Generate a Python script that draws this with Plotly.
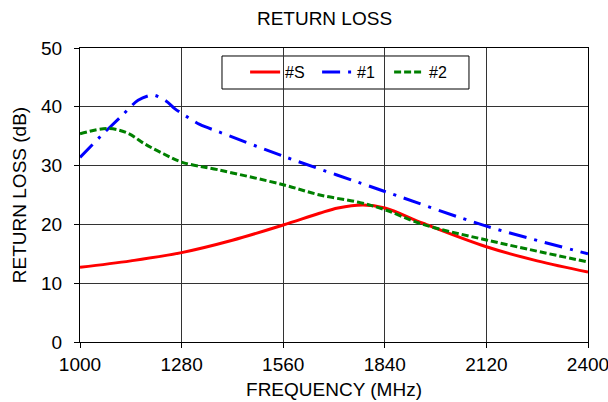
import plotly.graph_objects as go

freq_s = [1000, 1140, 1280, 1420, 1560, 1660, 1711, 1780, 1840, 1945, 2120, 2260, 2400]
rl_s = [12.7, 13.8, 15.2, 17.3, 19.9, 21.9, 22.8, 23.3, 22.8, 20.2, 16.2, 13.8, 11.9]

freq_1 = [1000, 1057, 1114, 1160, 1201, 1237, 1261, 1280, 1330, 1380, 1560, 1840, 2120, 2400]
rl_1 = [31.4, 35.0, 38.4, 41.1, 42.0, 41.0, 39.7, 38.9, 37.0, 35.8, 31.6, 25.6, 19.7, 15.0]

freq_2 = [1000, 1077, 1132, 1178, 1224, 1280, 1380, 1560, 1661, 1772, 1840, 1945, 2120, 2400]
rl_2 = [35.4, 36.3, 35.5, 33.7, 32.2, 30.6, 29.3, 26.75, 25.0, 23.7, 22.5, 20.0, 17.35, 13.6]

x_ticks = [1000, 1280, 1560, 1840, 2120, 2400]
y_ticks = [0, 10, 20, 30, 40, 50]

FONT = "Liberation Sans, Arial, sans-serif"

fig = go.Figure()
fig.add_trace(go.Scatter(x=freq_s, y=rl_s, name="#S", mode="lines",
                         line=dict(color="#ff0000", width=3, shape="spline", smoothing=1.0)))
fig.add_trace(go.Scatter(x=freq_1, y=rl_1, name="#1", mode="lines",
                         line=dict(color="#0000ff", width=3, shape="spline", smoothing=0.8,
                                   dash="18px,8px,3px,8px")))
fig.add_trace(go.Scatter(x=freq_2, y=rl_2, name="#2", mode="lines",
                         line=dict(color="#008000", width=3, shape="spline", smoothing=1.0,
                                   dash="7px,3px")))

fig.update_layout(
    width=608, height=402,
    margin=dict(l=80, r=20, t=48, b=60),
    paper_bgcolor="white", plot_bgcolor="white",
    font=dict(family=FONT, color="black", size=19),
    title=dict(text="RETURN LOSS", x=324.5 / 608, xanchor="center", y=1 - 18 / 402,
               yanchor="middle", font=dict(size=19)),
    legend=dict(orientation="h", x=0.325, y=0.918, xanchor="left", yanchor="middle",
                borderwidth=0, bgcolor="rgba(0,0,0,0)",
                font=dict(size=16), itemwidth=30, entrywidth=27),
    showlegend=True,
    shapes=[dict(type="rect", xref="paper", yref="paper",
                 x0=0.2795, x1=0.7657, y0=0.8605, y1=0.9728,
                 line=dict(color="black", width=1), fillcolor="white", layer="below")],
)
fig.update_xaxes(range=[1000, 2400], tickvals=x_ticks, ticks="outside", ticklen=5,
                 tickcolor="black", showgrid=True, gridcolor="#333333", gridwidth=1,
                 showline=True, linecolor="black", linewidth=1, mirror=True,
                 ticklabeloverflow="allow",
                 title=dict(text="FREQUENCY (MHz)", standoff=8, font=dict(size=19)),
                 zeroline=False, tickfont=dict(size=19), automargin=False)
fig.update_yaxes(range=[0, 50], tickvals=y_ticks, ticks="outside", ticklen=5,
                 tickcolor="black", showgrid=True, gridcolor="#333333", gridwidth=1,
                 showline=True, linecolor="black", linewidth=1, mirror=True,
                 ticklabelstandoff=8, ticklabeloverflow="allow",
                 title=dict(text="RETURN LOSS (dB)", standoff=9, font=dict(size=19)),
                 zeroline=False, tickfont=dict(size=19), automargin=False)

fig.write_html("out.html", config={"displayModeBar": False},
               post_script="document.body.style.margin='0px';")
